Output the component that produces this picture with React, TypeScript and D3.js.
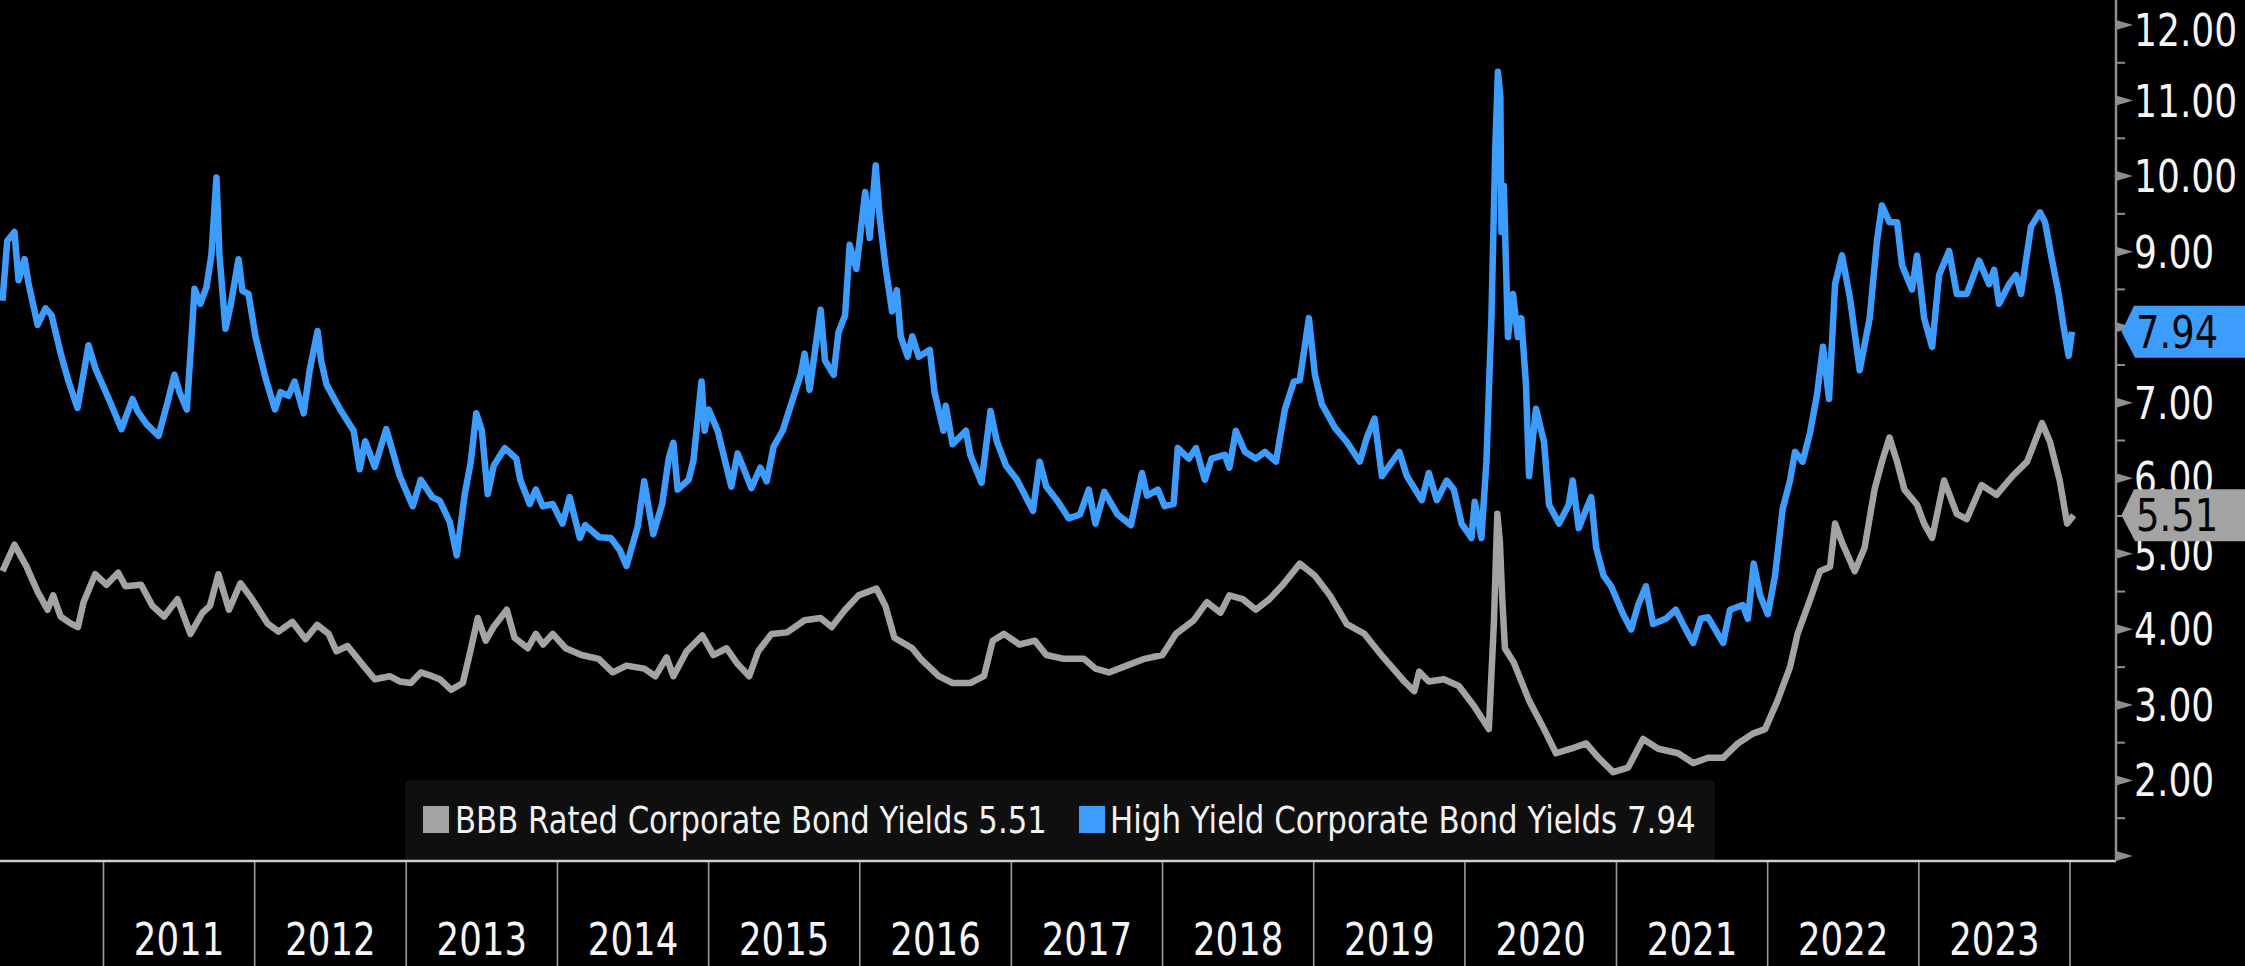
import React from "react";
import * as d3 from "d3";

// ---- data: [decimal year, yield %] ----
const highYield: [number, number][] = [
  [2010.332, 8.35], [2010.363, 9.14], [2010.411, 9.26], [2010.438, 8.62], [2010.478, 8.9], [2010.504, 8.58],
  [2010.564, 8.03], [2010.616, 8.25], [2010.656, 8.16], [2010.716, 7.66], [2010.769, 7.28], [2010.828, 6.93],
  [2010.901, 7.76], [2010.947, 7.45], [2011.046, 7.0], [2011.119, 6.65], [2011.192, 7.05], [2011.225, 6.89],
  [2011.284, 6.72], [2011.364, 6.56], [2011.423, 7.0], [2011.469, 7.37], [2011.503, 7.14], [2011.551, 6.91],
  [2011.589, 8.07], [2011.602, 8.51], [2011.641, 8.31], [2011.681, 8.53], [2011.714, 8.96], [2011.747, 9.98],
  [2011.767, 8.96], [2011.807, 7.98], [2011.843, 8.31], [2011.893, 8.9], [2011.919, 8.48], [2011.959, 8.44],
  [2012.005, 7.88], [2012.071, 7.33], [2012.134, 6.91], [2012.17, 7.14], [2012.223, 7.09], [2012.263, 7.28],
  [2012.323, 6.86], [2012.362, 7.42], [2012.415, 7.95], [2012.438, 7.56], [2012.474, 7.24], [2012.564, 6.91],
  [2012.653, 6.63], [2012.693, 6.12], [2012.729, 6.49], [2012.792, 6.15], [2012.868, 6.65], [2012.957, 6.03],
  [2013.043, 5.63], [2013.096, 5.98], [2013.172, 5.75], [2013.222, 5.7], [2013.288, 5.42], [2013.334, 4.98],
  [2013.387, 5.79], [2013.427, 6.22], [2013.463, 6.86], [2013.5, 6.63], [2013.539, 5.79], [2013.579, 6.17],
  [2013.652, 6.4], [2013.728, 6.26], [2013.754, 5.98], [2013.817, 5.66], [2013.857, 5.85], [2013.903, 5.63],
  [2013.969, 5.66], [2014.033, 5.4], [2014.081, 5.75], [2014.148, 5.21], [2014.184, 5.38], [2014.276, 5.22],
  [2014.353, 5.21], [2014.412, 5.05], [2014.457, 4.84], [2014.531, 5.36], [2014.574, 5.96], [2014.634, 5.26],
  [2014.693, 5.66], [2014.736, 6.26], [2014.767, 6.47], [2014.795, 5.85], [2014.868, 5.98], [2014.9, 6.24],
  [2014.953, 7.28], [2014.974, 6.63], [2015.0, 6.91], [2015.06, 6.63], [2015.15, 5.89], [2015.192, 6.33],
  [2015.283, 5.87], [2015.342, 6.14], [2015.384, 5.96], [2015.43, 6.42], [2015.49, 6.63], [2015.549, 7.0],
  [2015.609, 7.37], [2015.635, 7.65], [2015.668, 7.17], [2015.741, 8.23], [2015.77, 7.56], [2015.827, 7.37],
  [2015.859, 7.93], [2015.903, 8.16], [2015.933, 9.09], [2015.977, 8.77], [2016.036, 9.79], [2016.065, 9.18],
  [2016.105, 10.14], [2016.131, 9.46], [2016.169, 8.81], [2016.213, 8.21], [2016.244, 8.49], [2016.27, 7.88],
  [2016.316, 7.61], [2016.346, 7.88], [2016.389, 7.61], [2016.462, 7.7], [2016.493, 7.14], [2016.552, 6.63],
  [2016.567, 6.96], [2016.612, 6.45], [2016.7, 6.63], [2016.729, 6.31], [2016.803, 5.94], [2016.862, 6.89],
  [2016.904, 6.49], [2016.964, 6.17], [2017.037, 5.98], [2017.143, 5.57], [2017.187, 6.22], [2017.231, 5.89],
  [2017.305, 5.7], [2017.379, 5.47], [2017.454, 5.52], [2017.512, 5.85], [2017.556, 5.4], [2017.615, 5.82],
  [2017.703, 5.52], [2017.791, 5.38], [2017.864, 6.07], [2017.897, 5.77], [2017.969, 5.85], [2018.014, 5.63],
  [2018.073, 5.66], [2018.101, 6.4], [2018.174, 6.26], [2018.221, 6.4], [2018.28, 5.98], [2018.324, 6.26],
  [2018.412, 6.31], [2018.442, 6.14], [2018.485, 6.63], [2018.545, 6.35], [2018.617, 6.26], [2018.677, 6.35],
  [2018.75, 6.22], [2018.809, 6.91], [2018.869, 7.28], [2018.908, 7.3], [2018.968, 8.12], [2019.008, 7.37],
  [2019.054, 6.98], [2019.14, 6.67], [2019.219, 6.48], [2019.305, 6.22], [2019.352, 6.54], [2019.402, 6.79],
  [2019.451, 6.03], [2019.566, 6.35], [2019.616, 6.03], [2019.715, 5.71], [2019.761, 6.07], [2019.814, 5.71],
  [2019.88, 5.97], [2019.927, 5.85], [2019.978, 5.4], [2020.043, 5.21], [2020.065, 5.69], [2020.109, 5.21],
  [2020.142, 6.22], [2020.175, 8.12], [2020.201, 10.4], [2020.218, 11.38], [2020.234, 11.04], [2020.241, 9.26],
  [2020.257, 9.87], [2020.284, 7.87], [2020.317, 8.44], [2020.35, 7.87], [2020.372, 8.12], [2020.403, 7.24],
  [2020.423, 6.03], [2020.469, 6.92], [2020.522, 6.48], [2020.555, 5.65], [2020.621, 5.4], [2020.685, 5.65],
  [2020.711, 5.97], [2020.751, 5.34], [2020.8, 5.59], [2020.833, 5.75], [2020.866, 5.08], [2020.915, 4.71],
  [2020.965, 4.57], [2021.044, 4.2], [2021.097, 4.0], [2021.143, 4.32], [2021.195, 4.57], [2021.242, 4.07],
  [2021.326, 4.14], [2021.392, 4.26], [2021.458, 4.0], [2021.507, 3.82], [2021.557, 4.14], [2021.606, 4.16],
  [2021.653, 4.0], [2021.705, 3.82], [2021.751, 4.26], [2021.836, 4.32], [2021.869, 4.14], [2021.908, 4.87],
  [2021.95, 4.45], [2022.001, 4.2], [2022.049, 4.71], [2022.099, 5.59], [2022.148, 5.97], [2022.181, 6.35],
  [2022.231, 6.22], [2022.28, 6.6], [2022.327, 7.11], [2022.366, 7.74], [2022.406, 7.05], [2022.446, 8.57],
  [2022.492, 8.95], [2022.545, 8.38], [2022.609, 7.43], [2022.675, 8.12], [2022.723, 9.14], [2022.756, 9.61],
  [2022.806, 9.39], [2022.856, 9.39], [2022.889, 8.82], [2022.955, 8.5], [2022.988, 8.95], [2023.035, 8.12],
  [2023.088, 7.74], [2023.134, 8.69], [2023.2, 9.01], [2023.251, 8.44], [2023.317, 8.44], [2023.399, 8.88],
  [2023.465, 8.57], [2023.498, 8.76], [2023.531, 8.31], [2023.597, 8.57], [2023.643, 8.69], [2023.676, 8.44],
  [2023.742, 9.33], [2023.802, 9.52], [2023.835, 9.39], [2023.875, 8.95], [2023.925, 8.44], [2023.958, 8.0],
  [2023.991, 7.62], [2024.013, 7.94],
];

const bbbRated: [number, number][] = [
  [2010.332, 4.77], [2010.411, 5.12], [2010.491, 4.83], [2010.564, 4.5], [2010.63, 4.26], [2010.667, 4.45],
  [2010.716, 4.17], [2010.782, 4.08], [2010.831, 4.03], [2010.868, 4.36], [2010.945, 4.73], [2011.02, 4.59],
  [2011.097, 4.75], [2011.145, 4.57], [2011.249, 4.59], [2011.324, 4.31], [2011.401, 4.17], [2011.489, 4.4],
  [2011.575, 3.94], [2011.655, 4.22], [2011.704, 4.31], [2011.76, 4.73], [2011.83, 4.26], [2011.906, 4.61],
  [2011.983, 4.4], [2012.084, 4.08], [2012.157, 3.97], [2012.248, 4.1], [2012.336, 3.87], [2012.412, 4.06],
  [2012.488, 3.94], [2012.539, 3.71], [2012.613, 3.78], [2012.717, 3.52], [2012.792, 3.34], [2012.891, 3.38],
  [2012.957, 3.31], [2013.03, 3.29], [2013.096, 3.43], [2013.172, 3.38], [2013.222, 3.34], [2013.298, 3.2],
  [2013.374, 3.29], [2013.424, 3.71], [2013.473, 4.15], [2013.526, 3.85], [2013.577, 4.03], [2013.665, 4.26],
  [2013.716, 3.89], [2013.804, 3.75], [2013.857, 3.94], [2013.905, 3.8], [2013.969, 3.94], [2014.055, 3.75],
  [2014.159, 3.66], [2014.273, 3.61], [2014.366, 3.43], [2014.457, 3.52], [2014.574, 3.48], [2014.648, 3.38],
  [2014.722, 3.63], [2014.767, 3.38], [2014.855, 3.71], [2014.958, 3.92], [2015.032, 3.66], [2015.119, 3.75],
  [2015.192, 3.54], [2015.269, 3.38], [2015.328, 3.71], [2015.416, 3.94], [2015.519, 3.96], [2015.635, 4.12],
  [2015.741, 4.15], [2015.814, 4.03], [2015.903, 4.26], [2015.992, 4.45], [2016.11, 4.54], [2016.169, 4.31],
  [2016.228, 3.89], [2016.346, 3.75], [2016.402, 3.61], [2016.521, 3.38], [2016.612, 3.29], [2016.729, 3.29],
  [2016.819, 3.38], [2016.877, 3.85], [2016.951, 3.94], [2017.054, 3.8], [2017.156, 3.85], [2017.231, 3.66],
  [2017.348, 3.61], [2017.48, 3.61], [2017.556, 3.48], [2017.645, 3.43], [2017.763, 3.52], [2017.881, 3.61],
  [2017.999, 3.66], [2018.088, 3.94], [2018.206, 4.12], [2018.293, 4.36], [2018.383, 4.22], [2018.442, 4.45],
  [2018.531, 4.4], [2018.617, 4.26], [2018.707, 4.4], [2018.796, 4.59], [2018.908, 4.87], [2019.008, 4.71],
  [2019.107, 4.45], [2019.219, 4.07], [2019.336, 3.94], [2019.435, 3.69], [2019.517, 3.5], [2019.6, 3.31],
  [2019.665, 3.18], [2019.698, 3.44], [2019.761, 3.31], [2019.861, 3.34], [2019.96, 3.25], [2020.059, 2.99],
  [2020.158, 2.68], [2020.191, 4.07], [2020.214, 5.53], [2020.231, 5.15], [2020.247, 4.39], [2020.264, 3.75],
  [2020.323, 3.56], [2020.423, 3.06], [2020.522, 2.68], [2020.601, 2.36], [2020.7, 2.42], [2020.8, 2.49],
  [2020.882, 2.3], [2020.978, 2.11], [2021.077, 2.17], [2021.176, 2.55], [2021.276, 2.42], [2021.408, 2.36],
  [2021.507, 2.23], [2021.606, 2.3], [2021.705, 2.3], [2021.803, 2.49], [2021.902, 2.62], [2021.983, 2.68],
  [2022.066, 3.06], [2022.148, 3.5], [2022.198, 3.94], [2022.28, 4.39], [2022.346, 4.77], [2022.413, 4.83],
  [2022.446, 5.4], [2022.492, 5.15], [2022.576, 4.77], [2022.641, 5.08], [2022.707, 5.85], [2022.756, 6.22],
  [2022.806, 6.54], [2022.856, 6.22], [2022.905, 5.85], [2022.988, 5.65], [2023.035, 5.4], [2023.088, 5.21],
  [2023.167, 5.97], [2023.251, 5.53], [2023.317, 5.46], [2023.415, 5.91], [2023.514, 5.78], [2023.62, 6.03],
  [2023.716, 6.22], [2023.815, 6.73], [2023.868, 6.48], [2023.932, 5.97], [2023.981, 5.4], [2024.024, 5.51],
];

const yearLabels = [2011, 2012, 2013, 2014, 2015, 2016, 2017, 2018, 2019, 2020, 2021, 2022, 2023];
const yTicks = [1, 2, 3, 4, 5, 6, 7, 8, 9, 10, 11, 12];
const bbbName = "BBB Rated Corporate Bond Yields";
const hyName = "High Yield Corporate Bond Yields";

// ---- styles ----
const W = 2245;
const H = 966;
const BLUE = "#3d9dff";
const GREY = "#a3a3a3";
const AXIS = "#8f8f8f";
const FONT = "DejaVu Sans";

function toDate(dy: number): Date {
  const y = Math.floor(dy);
  const start = new Date(y, 0, 1).getTime();
  const end = new Date(y + 1, 0, 1).getTime();
  return new Date(start + (dy - y) * (end - start));
}

function SText(props: {
  x: number; y: number; sx: number; size: number; anchor?: string; fill: string; children: React.ReactNode;
}) {
  const { x, y, sx, size, anchor = "start", fill, children } = props;
  return (
    <text
      transform={`translate(${x},${y}) scale(${sx},1)`}
      fontSize={size}
      fontFamily={FONT}
      textAnchor={anchor}
      fill={fill}
    >
      {children}
    </text>
  );
}

export default function App() {
  const axisX = 2116;
  const baseY = 861;
  const x = d3.scaleTime().domain([new Date(2011, 0, 1), new Date(2024, 0, 1)]).range([103.5, 2070]);
  const y = d3.scaleLinear().domain([1, 12]).range([856, 25]);
  const fmt = d3.format(".2f");

  const line = d3
    .line<[number, number]>()
    .x((d) => x(toDate(d[0])))
    .y((d) => y(d[1]));

  const minorTicks = d3.range(1.5, 12, 1);
  const sepYears = d3.range(2011, 2025);

  const lastHY = highYield[highYield.length - 1][1];
  const lastBBB = bbbRated[bbbRated.length - 1][1];

  const valueBox = (v: number, color: string) => {
    const c = y(v);
    const h = 26;
    const pts = [
      [axisX + 5.5, c],
      [axisX + 18, c - h],
      [W, c - h],
      [W, c + h],
      [axisX + 19, c + h],
    ]
      .map((p) => p.join(","))
      .join(" ");
    return (
      <g key={color}>
        <polygon points={pts} fill={color} />
        <SText x={axisX + 20} y={c + 16} sx={0.82} size={45} fill="#050505">
          {fmt(v)}
        </SText>
      </g>
    );
  };

  // tick labels fully hidden behind a last-value box are not drawn
  const boxCenters = [y(lastHY), y(lastBBB)];
  const labelTicks = yTicks.filter((t) => t > 1 && boxCenters.every((c) => Math.abs(y(t) - c) > 22));

  return (
    <svg
      width={W}
      height={H}
      style={{ position: "absolute", left: 0, top: 0, background: "#000", display: "block" }}
    >
      <rect x={0} y={0} width={W} height={H} fill="#000" />

      {/* series */}
      <path d={line(bbbRated) || ""} fill="none" stroke={GREY} strokeWidth={6.5} strokeLinejoin="round" />
      <path d={line(highYield) || ""} fill="none" stroke={BLUE} strokeWidth={6.5} strokeLinejoin="round" />

      {/* legend */}
      <rect x={405} y={780} width={1310} height={82} rx={5} fill="#0f0f0f" />
      <rect x={423} y={806} width={26} height={27} fill={GREY} />
      <SText x={455} y={833} sx={0.83} size={37} fill="#f2f2f2">
        {`${bbbName} ${fmt(lastBBB)}`}
      </SText>
      <rect x={1079} y={806} width={26} height={27} fill={BLUE} />
      <SText x={1110} y={833} sx={0.835} size={37} fill="#f2f2f2">
        {`${hyName} ${fmt(lastHY)}`}
      </SText>

      {/* x axis */}
      <line x1={0} x2={axisX} y1={baseY} y2={baseY} stroke="#cfcfcf" strokeWidth={2.5} />
      {sepYears.map((yr) => (
        <line
          key={yr}
          x1={x(new Date(yr, 0, 1))}
          x2={x(new Date(yr, 0, 1))}
          y1={baseY + 1}
          y2={H}
          stroke="#9a9a9a"
          strokeWidth={1.6}
        />
      ))}
      {yearLabels.map((yr) => {
        const cx = (x(new Date(yr, 0, 1)) + x(new Date(yr + 1, 0, 1))) / 2;
        return (
          <SText key={yr} x={cx} y={955} sx={0.79} size={45} anchor="middle" fill="#f5f5f5">
            {String(yr)}
          </SText>
        );
      })}

      {/* y axis */}
      <line x1={axisX} x2={axisX} y1={0} y2={baseY} stroke={AXIS} strokeWidth={2.5} />
      {minorTicks.map((t) => (
        <line key={t} x1={axisX} x2={axisX + 9} y1={y(t)} y2={y(t)} stroke={AXIS} strokeWidth={2} />
      ))}
      {yTicks.map((t) => (
        <polygon
          key={t}
          points={`${axisX},${y(t) - 5} ${axisX + 17},${y(t)} ${axisX},${y(t) + 5}`}
          fill={AXIS}
        />
      ))}
      {labelTicks.map((t) => (
        <SText key={t} x={axisX + 18} y={Math.max(y(t) + 16, 46)} sx={0.82} size={44} fill="#f5f5f5">
          {fmt(t)}
        </SText>
      ))}

      {/* last value labels */}
      {valueBox(lastHY, BLUE)}
      {valueBox(lastBBB, GREY)}
    </svg>
  );
}
